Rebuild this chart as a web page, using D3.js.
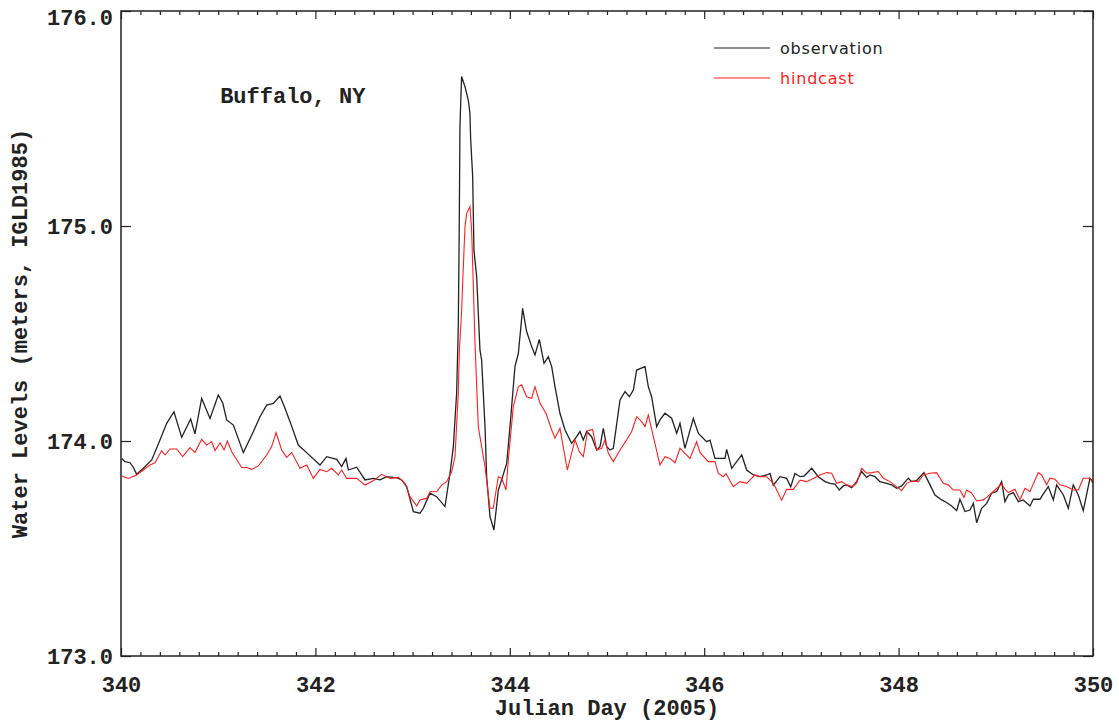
<!DOCTYPE html>
<html>
<head>
<meta charset="utf-8">
<script src="https://cdn.jsdelivr.net/npm/d3@7"></script>
<style>
  body { margin: 0; background: #fff; }
  svg { display: block; }
</style>
</head>
<body>
<div id="wrapper"></div>
<script>
// observed water levels at Buffalo, NY  [julian day, metres IGLD1985]
const observation = [
  [340.007,173.919],[340.041,173.904],[340.093,173.899],[340.127,173.878],[340.161,173.845],[340.230,173.873],
  [340.316,173.912],[340.401,174.005],[340.470,174.082],[340.545,174.136],[340.624,174.017],[340.717,174.102],
  [340.761,174.033],[340.830,174.198],[340.916,174.105],[341.001,174.214],[341.046,174.178],[341.087,174.098],
  [341.156,174.074],[341.259,173.946],[341.361,174.043],[341.430,174.113],[341.499,174.167],[341.567,174.175],
  [341.636,174.209],[341.687,174.152],[341.739,174.090],[341.824,173.981],[341.910,173.946],[342.047,173.888],
  [342.116,173.927],[342.219,173.915],[342.270,173.881],[342.315,173.919],[342.339,173.865],[342.425,173.878],
  [342.510,173.819],[342.596,173.826],[342.665,173.819],[342.733,173.834],[342.836,173.829],[342.888,173.819],
  [342.939,173.788],[343.008,173.671],[343.076,173.664],[343.110,173.687],[343.179,173.757],[343.247,173.741],
  [343.333,173.695],[343.385,173.850],[343.419,173.974],[343.453,174.222],[343.470,174.530],[343.480,175.000],
  [343.487,175.460],[343.504,175.695],[343.539,175.648],[343.573,175.586],[343.590,175.524],[343.597,175.408],
  [343.618,175.230],[343.631,174.889],[343.659,174.765],[343.693,174.424],[343.710,174.377],[343.745,174.067],
  [343.762,173.834],[343.796,173.648],[343.837,173.586],[343.882,173.772],[343.916,173.819],[343.968,173.896],
  [344.002,174.067],[344.053,174.346],[344.088,174.408],[344.132,174.617],[344.173,174.509],[344.225,174.439],
  [344.259,174.400],[344.304,174.473],[344.352,174.361],[344.396,174.392],[344.431,174.346],[344.465,174.253],
  [344.516,174.129],[344.568,174.051],[344.636,173.989],[344.688,174.020],[344.722,174.044],[344.756,174.005],
  [344.791,174.044],[344.842,174.020],[344.894,173.958],[344.928,173.974],[344.962,174.059],[344.997,173.974],
  [345.031,173.958],[345.065,173.966],[345.134,174.191],[345.185,174.230],[345.230,174.206],[345.271,174.237],
  [345.305,174.330],[345.391,174.346],[345.425,174.253],[345.459,174.206],[345.511,174.067],[345.545,174.098],
  [345.596,174.129],[345.665,174.106],[345.717,174.036],[345.751,174.082],[345.802,173.966],[345.888,174.105],
  [345.940,174.035],[346.025,173.997],[346.060,174.004],[346.111,173.919],[346.214,173.919],[346.231,173.961],
  [346.283,173.873],[346.386,173.935],[346.437,173.865],[346.506,173.842],[346.574,173.834],[346.643,173.842],
  [346.677,173.849],[346.711,173.795],[346.780,173.834],[346.848,173.826],[346.890,173.787],[346.934,173.849],
  [346.986,173.834],[347.027,173.837],[347.106,173.873],[347.174,173.834],[347.243,173.811],[347.294,173.803],
  [347.345,173.800],[347.390,173.772],[347.431,173.791],[347.465,173.796],[347.517,173.783],[347.568,173.811],
  [347.620,173.858],[347.671,173.831],[347.705,173.842],[347.757,173.834],[347.808,173.811],[347.877,173.803],
  [347.928,173.796],[347.980,173.780],[348.031,173.791],[348.100,173.827],[348.134,173.811],[348.185,173.816],
  [348.261,173.853],[348.323,173.796],[348.374,173.749],[348.443,173.726],[348.494,173.714],[348.546,173.698],
  [348.597,173.676],[348.631,173.729],[348.683,173.672],[348.734,173.679],[348.769,173.710],[348.803,173.620],
  [348.854,173.687],[348.906,173.710],[348.957,173.757],[349.009,173.765],[349.060,173.811],[349.094,173.718],
  [349.129,173.749],[349.180,173.760],[349.232,173.718],[349.283,173.726],[349.352,173.698],[349.386,173.729],
  [349.454,173.729],[349.489,173.754],[349.540,173.788],[349.592,173.726],[349.626,173.796],[349.695,173.749],
  [349.746,173.687],[349.797,173.796],[349.849,173.749],[349.900,173.676],[349.969,173.827],[350.000,173.811]
];

// model hindcast
const hindcast = [
  [340.007,173.837],[340.075,173.826],[340.161,173.842],[340.298,173.888],[340.350,173.899],[340.418,173.955],
  [340.453,173.935],[340.504,173.963],[340.573,173.963],[340.634,173.927],[340.710,173.969],[340.761,173.946],
  [340.830,174.008],[340.881,173.981],[340.933,173.997],[340.967,173.955],[341.019,173.992],[341.060,173.958],
  [341.094,174.000],[341.139,173.950],[341.241,173.877],[341.293,173.877],[341.344,173.868],[341.413,173.884],
  [341.499,173.935],[341.550,173.974],[341.595,174.039],[341.653,173.958],[341.704,173.924],[341.756,173.946],
  [341.842,173.873],[341.910,173.888],[341.979,173.826],[342.047,173.868],[342.116,173.857],[342.167,173.873],
  [342.236,173.842],[342.270,173.865],[342.322,173.826],[342.425,173.826],[342.510,173.795],[342.596,173.815],
  [342.682,173.845],[342.768,173.826],[342.853,173.831],[342.922,173.803],[342.973,173.741],[343.042,173.698],
  [343.076,173.726],[343.144,173.733],[343.179,173.764],[343.247,173.764],[343.299,173.795],[343.350,173.811],
  [343.402,173.857],[343.436,173.927],[343.470,174.222],[343.481,174.420],[343.505,174.609],[343.515,174.734],
  [343.539,174.997],[343.556,175.059],[343.590,175.090],[343.607,174.982],[343.624,174.734],[343.642,174.455],
  [343.676,174.067],[343.710,173.974],[343.745,173.881],[343.796,173.687],[343.830,173.687],[343.882,173.834],
  [343.916,173.827],[343.961,173.772],[343.985,173.912],[344.036,174.160],[344.088,174.253],[344.122,174.261],
  [344.173,174.206],[344.225,174.199],[344.259,174.253],[344.311,174.175],[344.372,174.129],[344.431,174.051],
  [344.465,174.013],[344.516,174.059],[344.592,173.865],[344.671,174.005],[344.715,173.951],[344.756,173.927],
  [344.801,174.048],[344.852,174.054],[344.894,173.958],[344.945,173.966],[344.979,174.005],[345.014,173.943],
  [345.065,173.904],[345.134,173.958],[345.202,174.005],[345.254,174.044],[345.305,174.113],[345.357,174.090],
  [345.391,174.067],[345.425,174.121],[345.477,174.020],[345.545,173.888],[345.597,173.927],[345.648,173.919],
  [345.700,173.899],[345.751,173.966],[345.802,173.942],[345.854,173.919],[345.922,173.997],[345.957,173.946],
  [346.042,173.904],[346.111,173.904],[346.145,173.849],[346.197,173.834],[346.224,173.849],[346.300,173.787],
  [346.368,173.811],[346.437,173.803],[346.523,173.842],[346.574,173.834],[346.643,173.834],[346.711,173.803],
  [346.746,173.772],[346.797,173.725],[346.848,173.775],[346.917,173.775],[346.986,173.818],[347.054,173.811],
  [347.123,173.826],[347.191,173.842],[347.260,173.853],[347.311,173.850],[347.362,173.803],[347.414,173.811],
  [347.465,173.796],[347.517,173.788],[347.568,173.803],[347.620,173.873],[347.671,173.850],[347.723,173.853],
  [347.791,173.858],[347.843,173.827],[347.911,173.811],[347.980,173.788],[348.031,173.769],[348.083,173.803],
  [348.134,173.814],[348.203,173.811],[348.254,173.842],[348.323,173.850],[348.391,173.853],[348.460,173.803],
  [348.511,173.796],[348.563,173.772],[348.631,173.772],[348.672,173.738],[348.700,173.772],[348.752,173.757],
  [348.803,173.721],[348.871,173.726],[348.906,173.738],[348.974,173.765],[349.060,173.800],[349.094,173.776],
  [349.129,173.760],[349.197,173.776],[349.249,173.726],[349.300,173.780],[349.352,173.765],[349.437,173.853],
  [349.471,173.842],[349.523,173.796],[349.557,173.827],[349.609,173.822],[349.660,173.796],[349.729,173.788],
  [349.797,173.772],[349.849,173.772],[349.900,173.827],[349.969,173.827],[350.000,173.803]
];

const xMajorTicks = [340, 342, 344, 346, 348, 350];
const yMajorTicks = [173, 174, 175, 176];
const seriesNames = ["observation", "hindcast"];
const seriesColors = ["#222222", "#ff2020"];

const dimensions = {
  width: 1119,
  height: 723,
  margin: { top: 11, right: 26, bottom: 67, left: 121 },
};
dimensions.boundedWidth = dimensions.width - dimensions.margin.left - dimensions.margin.right;
dimensions.boundedHeight = dimensions.height - dimensions.margin.top - dimensions.margin.bottom;

const monoFont = "'Liberation Mono', 'Courier New', monospace";

const svg = d3.select("#wrapper").append("svg")
  .attr("width", dimensions.width)
  .attr("height", dimensions.height);

const bounds = svg.append("g")
  .attr("transform", `translate(${dimensions.margin.left},${dimensions.margin.top})`);

const xScale = d3.scaleLinear().domain([340, 350]).range([0, dimensions.boundedWidth]);
const yScale = d3.scaleLinear().domain([173, 176]).range([dimensions.boundedHeight, 0]);

// minor ticks every 0.2 day
const xMinorTicks = d3.range(0, 51).map(i => 340 + i * 0.2).filter(v => Math.abs(v / 2 - Math.round(v / 2)) > 1e-6);

bounds.append("defs").append("clipPath").attr("id", "plotClip")
  .append("rect").attr("width", dimensions.boundedWidth).attr("height", dimensions.boundedHeight);

// lines
const lineGen = d3.line().x(d => xScale(d[0])).y(d => yScale(d[1]));
const lines = bounds.append("g").attr("clip-path", "url(#plotClip)");
[observation, hindcast].forEach((series, i) => {
  lines.append("path")
    .datum(series)
    .attr("fill", "none")
    .attr("stroke", seriesColors[i])
    .attr("stroke-width", i === 0 ? 1.3 : 1.1)
    .attr("stroke-linejoin", "miter")
    .attr("d", lineGen);
});

// axes
function styleAxis(g) {
  g.select(".domain").remove();
  g.selectAll("line").attr("stroke", "#222").attr("stroke-width", 1.2);
  g.selectAll("text")
    .attr("fill", "#222")
    .style("font-family", monoFont)
    .style("font-weight", "bold")
    .style("font-size", "22px");
}

const xBottom = bounds.append("g").attr("transform", `translate(0,${dimensions.boundedHeight})`);
xBottom.call(d3.axisBottom(xScale).tickValues(xMajorTicks).tickSize(-8).tickPadding(20).tickFormat(d3.format("d")))
  .call(styleAxis);
bounds.append("g").attr("transform", `translate(0,${dimensions.boundedHeight})`)
  .call(d3.axisBottom(xScale).tickValues(xMinorTicks).tickSize(-4).tickFormat(""))
  .call(styleAxis);
bounds.append("g")
  .call(d3.axisTop(xScale).tickValues(xMajorTicks).tickSize(-8).tickFormat(""))
  .call(styleAxis);
bounds.append("g")
  .call(d3.axisTop(xScale).tickValues(xMinorTicks).tickSize(-4).tickFormat(""))
  .call(styleAxis);

const yLeft = bounds.append("g")
  .call(d3.axisLeft(yScale).tickValues(yMajorTicks).tickSize(-10).tickPadding(8).tickFormat(d3.format(".1f")))
  .call(styleAxis);
// top label sits below the corner
yLeft.selectAll(".tick text").attr("dy", d => d === 176 ? "0.62em" : "0.32em");
bounds.append("g").attr("transform", `translate(${dimensions.boundedWidth},0)`)
  .call(d3.axisRight(yScale).tickValues(yMajorTicks).tickSize(-10).tickFormat(""))
  .call(styleAxis);

// frame
bounds.append("rect")
  .attr("width", dimensions.boundedWidth)
  .attr("height", dimensions.boundedHeight)
  .attr("fill", "none")
  .attr("stroke", "#222")
  .attr("stroke-width", 1.5);

// axis titles
svg.append("text")
  .attr("x", dimensions.margin.left + dimensions.boundedWidth / 2)
  .attr("y", 715)
  .attr("text-anchor", "middle")
  .attr("fill", "#222")
  .style("font-family", monoFont).style("font-weight", "bold").style("font-size", "22px")
  .text("Julian Day (2005)");

svg.append("text")
  .attr("transform", `translate(27,${dimensions.margin.top + dimensions.boundedHeight / 2}) rotate(-90)`)
  .attr("text-anchor", "middle")
  .attr("fill", "#222")
  .style("font-family", monoFont).style("font-weight", "bold").style("font-size", "22px")
  .text("Water Levels (meters, IGLD1985)");

// station name
bounds.append("text")
  .attr("x", xScale(341.02))
  .attr("y", yScale(175.57))
  .attr("fill", "#222")
  .style("font-family", monoFont).style("font-weight", "bold").style("font-size", "22px")
  .text("Buffalo, NY");

// legend
const legend = svg.append("g").attr("transform", "translate(714,48)");
seriesNames.forEach((name, i) => {
  const row = legend.append("g").attr("transform", `translate(0,${i * 30})`);
  row.append("line")
    .attr("x1", 0).attr("x2", 56)
    .attr("stroke", seriesColors[i]).attr("stroke-width", 1.2);
  row.append("text")
    .attr("x", 66).attr("dy", "0.35em")
    .attr("fill", seriesColors[i])
    .style("font-family", "'DejaVu Sans', sans-serif")
    .style("font-size", "16px")
    .style("letter-spacing", "0.8px")
    .text(name);
});
</script>
</body>
</html>
